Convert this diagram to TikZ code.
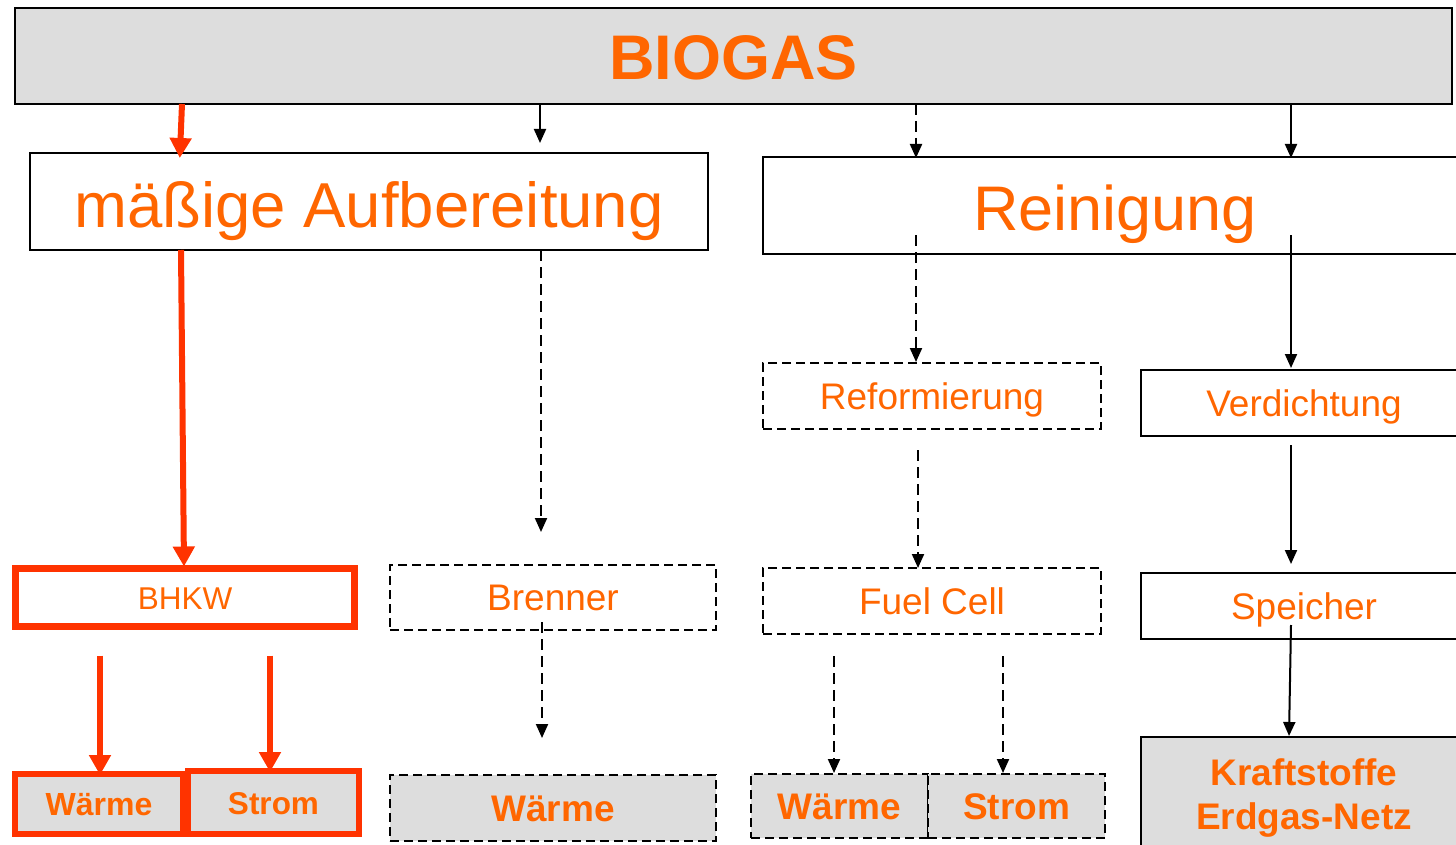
\documentclass[tikz,border=0pt]{standalone}
\usepackage{fontspec}
\setmainfont{Liberation Sans}
\usetikzlibrary{arrows.meta}
\definecolor{orng}{HTML}{FF6600}
\definecolor{redd}{HTML}{FF3300}
\definecolor{gry}{HTML}{DDDDDD}
\tikzset{
  box/.style={draw=black, line width=2pt, inner sep=0pt, outer sep=0pt, text=orng,
    text height=26.5pt, text depth=0pt, font=\fontsize{37}{44}\selectfont},
  dbox/.style={box, line width=1.8pt, dash pattern=on 9pt off 5pt},
  rbox/.style={box, draw=redd},
  bfont/.style={font=\fontsize{37}{44}\selectfont\bfseries},
  arr/.style={draw=black, line width=2pt, -{Triangle[width=12pt,length=14pt]}},
  darr/.style={arr, dash pattern=on 11pt off 6pt},
  rarr/.style={draw=redd, line width=6pt, -{Triangle[width=21pt,length=20pt]}},
  txt/.style={inner sep=0pt, text=orng, anchor=base, font=\fontsize{37}{44}\selectfont\bfseries}
}
\begin{document}
\begin{tikzpicture}[x=1pt,y=-1pt]
\useasboundingbox (0,0) rectangle (1456,845);
\fill[white] (0,0) rectangle (1456,845);
\clip (0,0) rectangle (1456,845);

% column coordinates
\foreach \c in {100,180,181,182,184,270,540,541,542,834,916,918,1003,1289,1291}
  \coordinate (x\c) at (\c,0);

% boxes
\node[box, fill=gry, font=\fontsize{63}{70}\selectfont\bfseries, text height=48pt,
  minimum width=1437pt, minimum height=96pt] (biogas) at (733.5,56) {BIOGAS};
\node[box, font=\fontsize{63.5}{70}\selectfont, text height=51pt,
  minimum width=678pt, minimum height=97pt] (auf) at (369,201.5) {mäßige Aufbereitung};
\node[box, font=\fontsize{63}{70}\selectfont, text height=49pt,
  minimum width=704pt, minimum height=97pt] (rein) at (1115,205.5) {Reinigung};
\node[dbox, minimum width=338pt, minimum height=66pt] (reform) at (932,396) {Reformierung};
\node[box, minimum width=326pt, minimum height=66pt] (verd) at (1304,403) {Verdichtung};
\node[rbox, line width=7pt, font=\fontsize{31.5}{36}\selectfont, text height=24pt,
  minimum width=339pt, minimum height=58pt] (bhkw) at (185,597.5) {BHKW};
\node[dbox, minimum width=326pt, minimum height=65pt] (brenner) at (553,597.5) {Brenner};
\node[dbox, minimum width=338pt, minimum height=66pt] (fuel) at (932,601) {Fuel Cell};
\node[box, minimum width=326pt, minimum height=66pt] (speicher) at (1304,606) {Speicher};

\node[rbox, fill=gry, line width=6pt, font=\fontsize{32}{36}\selectfont\bfseries, text height=23pt,
  minimum width=168pt, minimum height=60pt] (w1) at (99,804) {Wärme};
\node[rbox, fill=gry, line width=6pt, font=\fontsize{31.5}{36}\selectfont\bfseries, text height=23pt,
  minimum width=171pt, minimum height=63pt] (s1) at (273.5,802.5) {Strom};
\node[dbox, fill=gry, bfont, minimum width=326pt, minimum height=66pt] (w2) at (553,808) {Wärme};
\node[dbox, fill=gry, bfont, minimum width=177pt, minimum height=64pt] (w3) at (839.5,806) {Wärme};
\node[dbox, fill=gry, bfont, minimum width=177pt, minimum height=64pt] (s3) at (1016.5,806) {Strom};
\node[box, fill=gry, minimum width=326pt, minimum height=121pt] (kraft) at (1304,797.5) {};
\node[txt] (kraft1) at (1304,785) {Kraftstoffe};
\node[txt] (kraft2) at (1304,829) {Erdgas-Netz};

% connectors
\draw[rarr, shorten >=-5pt] (biogas.south -| x182) -- (auf.north -| x180);
\draw[arr, shorten >=10pt] (biogas.south -| x540) -- (auf.north -| x540);
\draw[darr, shorten >=-1pt] (biogas.south -| x916) -- (rein.north -| x916);
\draw[arr, shorten >=-1pt] (biogas.south -| x1291) -- (rein.north -| x1291);

\draw[rarr, shorten >=2pt] (auf.south -| x181) -- (bhkw.north -| x184);
\draw[darr, shorten >=33pt] (auf.south -| x541) -- (brenner.north -| x541);

\draw[darr, shorten >=1pt] ([yshift=19pt]rein.south -| x916) -- (reform.north -| x916);
\draw[arr, shorten >=2pt] ([yshift=19pt]rein.south -| x1291) -- (verd.north -| x1291);

\draw[darr, shorten <=21pt] (reform.south -| x918) -- (fuel.north -| x918);
\draw[arr, shorten <=9pt, shorten >=9pt] (verd.south -| x1291) -- (speicher.north -| x1291);

\draw[rarr, shorten <=29pt, shorten >=-1pt] (bhkw.south -| x100) -- (w1.north -| x100);
\draw[rarr, shorten <=29pt, shorten >=-1pt] (bhkw.south -| x270) -- (s1.north -| x270);

\draw[darr, shorten >=37pt] ([yshift=8pt]brenner.south -| x542) -- (w2.north -| x542);
\draw[darr, shorten <=22pt, shorten >=1pt] (fuel.south -| x834) -- (w3.north -| x834);
\draw[darr, shorten <=22pt, shorten >=1pt] (fuel.south -| x1003) -- (s3.north -| x1003);
\draw[arr, shorten >=1pt] ([yshift=14pt]speicher.south -| x1291) -- (kraft.north -| x1289);
\end{tikzpicture}
\end{document}
